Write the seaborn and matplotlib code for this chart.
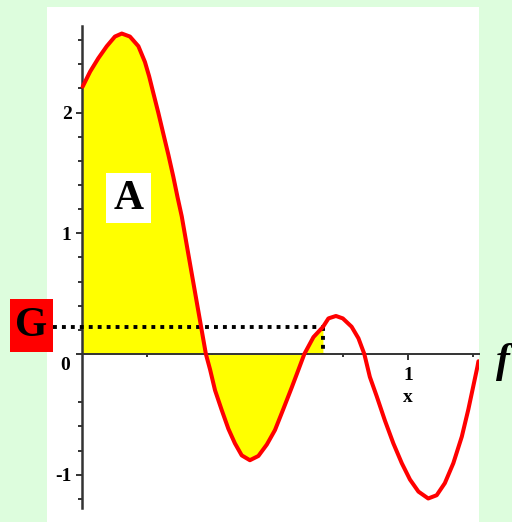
import numpy as np
import pandas as pd
import matplotlib
matplotlib.use("Agg")
import matplotlib.pyplot as plt
import seaborn as sns
from matplotlib.patches import Rectangle

# ----------------------------------------------------------
# Data
# ----------------------------------------------------------

curve_x = [0.002, 0.025, 0.050, 0.076, 0.101, 0.122, 0.147, 0.173, 0.193,
           0.206, 0.219, 0.234, 0.249, 0.265, 0.280, 0.293, 0.306, 0.326,
           0.352, 0.380,
           0.393, 0.408, 0.428, 0.449, 0.469, 0.490, 0.515, 0.541, 0.567,
           0.592, 0.617, 0.643, 0.664, 0.682, 0.710, 0.739, 0.756, 0.779,
           0.800, 0.827, 0.848, 0.866, 0.883, 0.904, 0.929, 0.955, 0.981,
           1.006, 1.032, 1.062, 1.088, 1.113, 1.139, 1.165, 1.185, 1.200,
           1.213, 1.216]
curve_y = [2.215, 2.34, 2.45, 2.55, 2.63, 2.655, 2.63, 2.55, 2.42,
           2.30, 2.16, 2.00, 1.83, 1.65, 1.47, 1.30, 1.14, 0.83,
           0.43, 0.00,
           -0.13, -0.30, -0.46, -0.62, -0.74, -0.84, -0.88, -0.845, -0.75,
           -0.63, -0.46, -0.28, -0.13, 0.00, 0.14, 0.224, 0.295, 0.315,
           0.295, 0.226, 0.13, 0.00, -0.19, -0.35, -0.55, -0.74, -0.905,
           -1.04, -1.14, -1.197, -1.17, -1.07, -0.905, -0.685, -0.46, -0.27,
           -0.105, -0.06]

g_level = 0.224
g_x = 0.739

y_major = [-1, 0, 1, 2]
y_labels = ["-1", "", "1", "2"]
y_minor = [-1.2, -0.8, -0.6, -0.4, 0.2, 0.4, 0.6, 0.8,
           1.2, 1.4, 1.6, 1.8, 2.2, 2.4, 2.6]
x_minor = [0.2, 0.4, 0.6, 0.8, 1.2]

df = pd.DataFrame({"x": curve_x, "y": curve_y})
area = df[df["x"] <= g_x]

# ----------------------------------------------------------
# Figure
# ----------------------------------------------------------

sns.set_style("white", {"xtick.bottom": True, "ytick.left": True,
                        "text.color": "black", "xtick.color": "#333333",
                        "ytick.color": "#333333"})
plt.rcParams["font.family"] = ["Liberation Serif", "DejaVu Serif"]

fig = plt.figure(figsize=(5.12, 5.22), dpi=100, facecolor="#DDFDDD")
ax = fig.add_axes([47 / 512, 0, 432 / 512, 515 / 522])
ax.set_facecolor("white")

ax.fill_between(area["x"], area["y"], 0, color="#FFFF00", linewidth=0, zorder=1)
sns.lineplot(data=df, x="x", y="y", color="#FF0000", linewidth=2.9,
             sort=False, ax=ax, zorder=4)

# G level dotted lines
ax.plot([-0.089, g_x], [g_level, g_level], color="black", linewidth=2.8,
        linestyle=(0, (1, 1.3)), dash_capstyle="butt", clip_on=False, zorder=3)
ax.plot([g_x, g_x], [g_level, 0], color="black", linewidth=2.8,
        linestyle=(0, (1, 1.3)), dash_capstyle="butt", zorder=3)

ax.set_xlim(-35 / 326, 397 / 326)
ax.set_ylim((354 - 522) / 120.7, (354 - 7) / 120.7)

for s in ["top", "right"]:
    ax.spines[s].set_visible(False)
ax.spines["left"].set_position(("data", 0))
ax.spines["bottom"].set_position(("data", 0))
ax.spines["left"].set_bounds(-1.276, 2.717)
ax.spines["bottom"].set_bounds(0, 1.218)
ax.spines["left"].set_linewidth(1.8)
ax.spines["bottom"].set_linewidth(1.4)
ax.spines["left"].set_color("#333333")
ax.spines["bottom"].set_color("#333333")
ax.spines["left"].set_zorder(2.5)
ax.spines["bottom"].set_zorder(2.5)

ax.set_yticks(y_major)
ax.set_yticklabels(y_labels, fontsize=14, fontweight="bold", color="black")
ax.set_yticks(y_minor, minor=True)
ax.set_xticks([1])
ax.set_xticklabels([""])
ax.set_xticks(x_minor, minor=True)
ax.tick_params(axis="y", which="major", left=True, direction="out", length=4.5,
               width=1.4, color="#333333", pad=3)
ax.tick_params(axis="y", which="minor", left=True, direction="out", length=3,
               width=1.4, color="#333333")
ax.tick_params(axis="x", which="major", bottom=True, direction="out", length=4,
               width=1.4, color="#333333")
ax.tick_params(axis="x", which="minor", bottom=True, direction="out", length=2.2,
               width=1.4, color="#333333")
ax.set_xlabel("")
ax.set_ylabel("")

# tick labels placed by hand (Maple style)
ax.text(-0.053, (354 - 366) / 120.7, "0", fontsize=14, fontweight="bold",
        color="black", ha="center", va="center")
ax.text(1.0, (354 - 376) / 120.7, "1", fontsize=14, fontweight="bold",
        color="black", ha="center", va="center")
ax.text(1.0, (354 - 397) / 120.7, "x", fontsize=14, fontweight="bold",
        color="black", ha="center", va="center")

# A label
ax.add_patch(Rectangle((24 / 326, (354 - 223) / 120.7), 45 / 326, 50 / 120.7,
                       facecolor="white", edgecolor="none", zorder=5))
ax.text(46.5 / 326, (354 - 199) / 120.7, "A", fontsize=30, fontweight="bold",
        color="black", ha="center", va="center", zorder=6)

# G label
fig.patches.append(Rectangle((10 / 512, 1 - 352 / 522), 43 / 512, 53 / 522,
                             facecolor="#FF0000", edgecolor="none",
                             transform=fig.transFigure, figure=fig, zorder=5))
fig.text(31.5 / 512, 1 - 326 / 522, "G", fontsize=30, fontweight="bold",
         color="black", ha="center", va="center", zorder=6)

# f label
fig.text(503 / 512, 1 - 362 / 522, "f", fontsize=30, fontstyle="italic",
         fontweight="bold", color="black", ha="center", va="center")

fig.savefig("out.png", dpi=100, facecolor=fig.get_facecolor())
